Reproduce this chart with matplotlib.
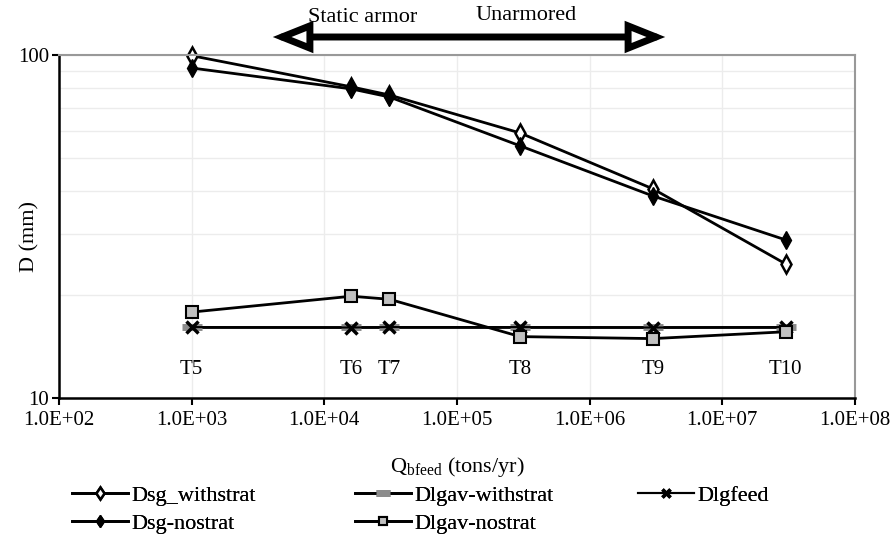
import matplotlib.pyplot as plt
from matplotlib.patches import FancyArrowPatch

plt.rcdefaults()
plt.rcParams['font.family'] = ['Liberation Serif', 'DejaVu Serif']

# bed feed rates (tons/yr) for runs T5..T10
runs = ['T5', 'T6', 'T7', 'T8', 'T9', 'T10']
q_feed = [1.0e3, 1.6e4, 3.1e4, 3.0e5, 3.0e6, 3.0e7]

# grain sizes (mm)
dsg_withstrat = [99.5, 80.7, 76.4, 59.2, 40.7, 24.6]
dsg_nostrat = [91.6, 79.6, 75.4, 54.3, 38.8, 28.9]
dlgav_withstrat = [16.1, 16.1, 16.1, 16.1, 16.1, 16.1]
dlgav_nostrat = [17.8, 19.8, 19.4, 15.1, 14.9, 15.6]
dlgfeed = [16.1, 16.05, 16.1, 16.1, 16.05, 16.1]

xticks = [1e2, 1e3, 1e4, 1e5, 1e6, 1e7, 1e8]
xtick_labels = ['1.0E+02', '1.0E+03', '1.0E+04', '1.0E+05', '1.0E+06', '1.0E+07', '1.0E+08']
run_label_y = 12.1

fig = plt.figure(figsize=(8.92, 5.49), dpi=100)
ax = fig.add_axes([0.066, 0.275, 0.8925, 0.625])

ax.set_xscale('log')
ax.set_yscale('log')
ax.set_xlim(1e2, 1e8)
ax.set_ylim(10, 100)

l1, = ax.plot(q_feed, dsg_withstrat, color='black', lw=2, marker='d', ms=9,
              mfc='white', mec='black', mew=1.8, label='Dsg_withstrat', clip_on=False)
l2, = ax.plot(q_feed, dsg_nostrat, color='black', lw=2, marker='d', ms=9,
              mfc='black', mec='black', label='Dsg-nostrat')
l3, = ax.plot(q_feed, dlgav_withstrat, color='black', lw=2, marker='_', ms=14,
              mew=5, mec='#8c8c8c', label='Dlgav-withstrat')
l5, = ax.plot(q_feed, dlgfeed, color='black', lw=1.5, marker='x', ms=9,
              mew=2.5, mec='black', label='Dlgfeed')
l4, = ax.plot(q_feed, dlgav_nostrat, color='black', lw=2, marker='s', ms=8,
              mfc='#c0c0c0', mec='black', mew=1.5, label='Dlgav-nostrat')

for x, name in zip(q_feed, runs):
    ax.text(x, run_label_y, name, ha='center', va='center', fontsize=15)

ax.set_xticks(xticks)
ax.set_xticklabels(xtick_labels)
ax.set_yticks([10, 100])
ax.set_yticklabels(['10', '100'])
ax.xaxis.set_minor_locator(plt.NullLocator())
ax.set_yticks(list(range(20, 100, 10)), minor=True)
ax.yaxis.set_minor_formatter(plt.NullFormatter())
ax.tick_params(axis='both', which='major', labelsize=15, direction='out',
               length=5, width=1.5, color='black')
ax.tick_params(axis='y', which='major', pad=2)
ax.tick_params(axis='x', which='major', pad=4)
ax.tick_params(axis='y', which='minor', length=0)

ax.grid(True, which='major', axis='x', color='#ececec', lw=1)
ax.grid(True, which='both', axis='y', color='#ececec', lw=1)
ax.set_axisbelow(True)

ax.spines['left'].set_linewidth(1.8)
ax.spines['bottom'].set_linewidth(1.8)
ax.spines['top'].set_color('#999999')
ax.spines['right'].set_color('#999999')
ax.spines['top'].set_linewidth(1.5)
ax.spines['right'].set_linewidth(1.5)

fig.text(30 / 892, 1 - 236 / 549, 'D (mm)', rotation=90, ha='center', va='center',
         fontsize=16)
ax.set_xlabel(r'Q$_{\mathregular{bfeed}}$ (tons/yr)', fontsize=16, labelpad=18)

# regime arrow above the plot
arrow = FancyArrowPatch((270 / 892, 1 - 37 / 549), (668 / 892, 1 - 37 / 549),
                        transform=fig.transFigure,
                        arrowstyle='<|-|>,head_length=20,head_width=8',
                        mutation_scale=1, lw=5, fc='white', ec='black',
                        joinstyle='miter')
fig.patches.append(arrow)
fig.text(363 / 892, 1 - 18 / 549, 'Static armor', ha='center', va='center', fontsize=16)
fig.text(526 / 892, 1 - 16 / 549, 'Unarmored', ha='center', va='center', fontsize=16)

# legend as three fixed-width columns
legend_cols = [([l1, l2], ['Dsg_withstrat', 'Dsg-nostrat'], 72),
               ([l3, l4], ['Dlgav-withstrat', 'Dlgav-nostrat'], 355),
               ([l5], ['Dlgfeed'], 638)]
for handles, labels, x0 in legend_cols:
    leg = fig.legend(handles, labels, loc='upper left',
                     bbox_to_anchor=(x0 / 892, 1 - 485 / 549),
                     frameon=False, borderpad=0, borderaxespad=0, markerscale=0.7,
                     fontsize=16, handlelength=2.5, handletextpad=0.15,
                     labelspacing=0.35)
    fig.add_artist(leg)

fig.savefig('out.png', dpi=100)
